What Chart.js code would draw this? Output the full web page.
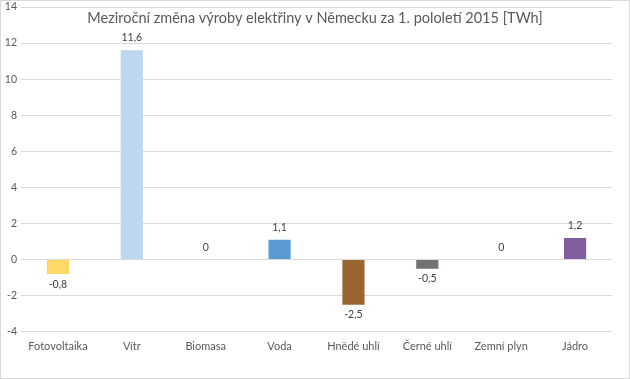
<!DOCTYPE html>
<html>
<head>
<meta charset="utf-8">
<script src="https://cdn.jsdelivr.net/npm/chart.js@4"></script>
<style>
    html, body { margin: 0; padding: 0; background: #fff; }
    #wrap { position: relative; width: 630px; height: 379px; box-sizing: border-box; border: 1px solid #d9d9d9; }
    canvas { display: block; }
</style>
</head>
<body>
<div id="wrap"><canvas id="changeChart" width="628" height="377"></canvas></div>
<script>
const categories = ['Fotovoltaika', 'Vítr', 'Biomasa', 'Voda', 'Hnědé uhlí', 'Černé uhlí', 'Zemní plyn', 'Jádro'];
const changes = [-0.8, 11.6, 0, 1.1, -2.5, -0.5, 0, 1.2];
const barColors = ['#FFD966', '#BDD7EE', '#A5A5A5', '#5B9BD5', '#996633', '#767171', '#A9D18E', '#7F5FA0'];
const yTicks = [-4, -2, 0, 2, 4, 6, 8, 10, 12, 14];
const chartTitle = 'Meziroční změna výroby elektřiny v Německu za 1. pololetí 2015 [TWh]';

const fontFamily = 'Lato, "Open Sans", sans-serif';

// title sits inside the plot, over the top gridlines
let titlePlugin = {
    id: 'innerTitle',
    afterDatasetsDraw: function (chart) {
        let ctx = chart.ctx;
        ctx.save();
        ctx.font = '14.5px ' + fontFamily;
        ctx.fillStyle = '#595959';
        ctx.textAlign = 'center';
        ctx.textBaseline = 'middle';
        ctx.fillText(chartTitle, 314, 17);
        ctx.restore();
    }
};

// value labels, comma as decimal sign
let valueLabels = {
    id: 'valueLabels',
    afterDatasetsDraw: function (chart) {
        let ctx = chart.ctx;
        let meta = chart.getDatasetMeta(0);
        ctx.save();
        ctx.font = '10.5px ' + fontFamily;
        ctx.fillStyle = '#404040';
        ctx.textAlign = 'center';
        meta.data.forEach(function (bar, i) {
            let v = changes[i];
            let text = String(v).replace('.', ',');
            if (v < 0) {
                ctx.textBaseline = 'top';
                ctx.fillText(text, bar.x, bar.y + 5);
            } else {
                ctx.textBaseline = 'bottom';
                ctx.fillText(text, bar.x, bar.y - 7);
            }
        });
        ctx.restore();
    }
};

let changeChart = new Chart(document.getElementById('changeChart'), {
    type: 'bar',
    data: {
        labels: categories,
        datasets: [{
            data: changes,
            backgroundColor: barColors,
            borderWidth: 0,
            categoryPercentage: 1,
            barPercentage: 0.3
        }]
    },
    options: {
        responsive: false,
        animation: false,
        layout: {
            padding: { top: 6, right: 17, bottom: 17, left: 0 }
        },
        plugins: {
            legend: { display: false },
            title: { display: false },
            tooltip: { enabled: false }
        },
        scales: {
            x: {
                grid: { display: false, drawTicks: false },
                border: { display: false },
                ticks: {
                    color: '#595959',
                    padding: 8,
                    font: { family: fontFamily, size: 11 }
                }
            },
            y: {
                min: yTicks[0],
                max: yTicks[yTicks.length - 1],
                afterBuildTicks: function (axis) {
                    axis.ticks = yTicks.map(function (v) { return { value: v }; });
                },
                afterFit: function (axis) {
                    axis.width = 20;
                    axis.paddingTop = 0;
                    axis.paddingBottom = 0;
                },
                grid: { color: '#d9d9d9', drawTicks: false },
                border: { display: false },
                ticks: {
                    autoSkip: false,
                    color: '#595959',
                    padding: 4,
                    font: { family: fontFamily, size: 10.5 }
                }
            }
        }
    },
    plugins: [titlePlugin, valueLabels]
});
</script>
</body>
</html>
